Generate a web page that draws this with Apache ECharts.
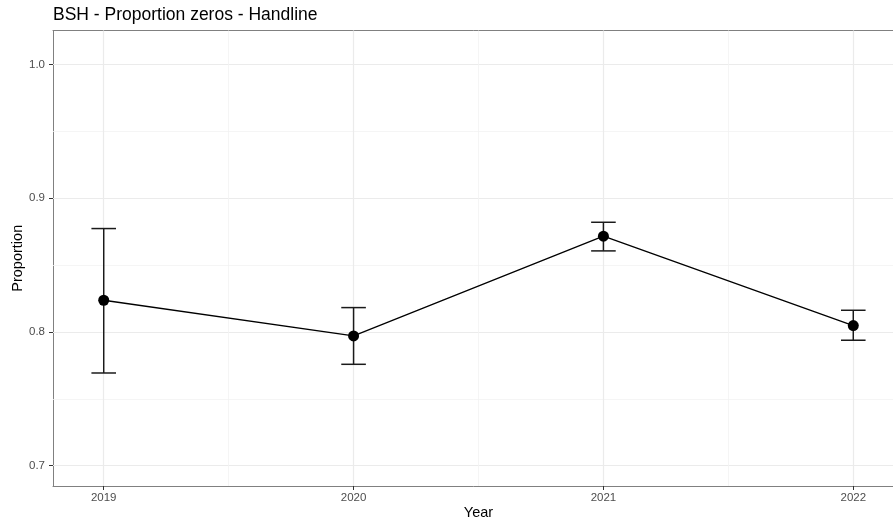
<!DOCTYPE html>
<html>
<head>
<meta charset="utf-8">
<script src="https://cdn.jsdelivr.net/npm/echarts@6/dist/echarts.min.js"></script>
<style>
  html, body { margin: 0; padding: 0; background: #fff; }
  #chart { width: 893px; height: 524px; }
</style>
</head>
<body>
<div id="chart"></div>
<script>
// data
var years = [2019, 2020, 2021, 2022];
var proportion = [0.8237, 0.797, 0.8716, 0.8048];
var lower = [0.7693, 0.7758, 0.8606, 0.7938];
var upper = [0.8773, 0.8182, 0.882, 0.8162];

var yTicks = [0.7, 0.8, 0.9, 1.0];
var yMinor = [0.75, 0.85, 0.95];
var xMinor = [2019.5, 2020.5, 2021.5];

var font = "Liberation Sans, Arial, Helvetica, sans-serif";
var border = { show: true, lineStyle: { color: "#808080", width: 1 } };

var chart = echarts.init(document.getElementById("chart"));

var pts = years.map(function (y, i) { return [y, proportion[i]]; });
var bars = years.map(function (y, i) { return [y, lower[i], upper[i]]; });

// grid lines as markLines (major + minor)
var gridLines = [];
yTicks.forEach(function (v) { gridLines.push({ yAxis: v, lineStyle: { color: "#ebebeb", width: 1.2, type: "solid" } }); });
yMinor.forEach(function (v) { gridLines.push({ yAxis: v, lineStyle: { color: "#f2f2f2", width: 0.8, type: "solid" } }); });
years.forEach(function (v) { gridLines.push({ xAxis: v, lineStyle: { color: "#ebebeb", width: 1.2, type: "solid" } }); });
xMinor.forEach(function (v) { gridLines.push({ xAxis: v, lineStyle: { color: "#f2f2f2", width: 0.8, type: "solid" } }); });

chart.setOption({
  animation: false,
  textStyle: { fontFamily: font },
  title: {
    text: "BSH - Proportion zeros - Handline",
    left: 53,
    top: 6,
    padding: 0,
    textStyle: { fontSize: 17.5, fontWeight: "normal", color: "#000", fontFamily: font },
  },
  grid: {
    left: 53,
    top: 30.5,
    width: 851,
    height: 455.5,
    outerBoundsMode: "none",
    containLabel: false,
  },
  xAxis: [
    {
      type: "value",
      min: 2018.797,
      max: 2022.203,
      name: "Year",
      nameLocation: "middle",
      nameGap: 19,
      nameMoveOverlap: false,
      nameTextStyle: { fontSize: 14.5, color: "#000", fontFamily: font },
      axisLine: border,
      axisTick: { show: true, customValues: years, length: 4, lineStyle: { color: "#333" } },
      axisLabel: {
        customValues: years,
        margin: 6,
        fontSize: 11.5,
        color: "#4d4d4d",
        formatter: function (v) { return String(v); },
      },
      splitLine: { show: false },
    },
    {
      // top edge of the panel
      type: "value",
      position: "top",
      min: 2018.797,
      max: 2022.203,
      axisLine: border,
      axisTick: { show: false },
      axisLabel: { show: false },
      splitLine: { show: false },
    },
  ],
  yAxis: {
    type: "value",
    min: 0.6848,
    max: 1.0254,
    name: "Proportion",
    nameLocation: "middle",
    nameRotate: 90,
    nameGap: 28,
    nameMoveOverlap: false,
    nameTextStyle: { fontSize: 14.5, color: "#000", fontFamily: font },
    axisLine: border,
    axisTick: { show: true, customValues: yTicks, length: 4, lineStyle: { color: "#333" } },
    axisLabel: {
      customValues: yTicks,
      margin: 8,
      fontSize: 11.5,
      color: "#4d4d4d",
      formatter: function (v) { return v.toFixed(1); },
    },
    splitLine: { show: false },
  },
  series: [
    {
      // holder for grid lines, kept on the lower layer
      type: "line",
      zlevel: 0,
      z: 1,
      data: pts,
      showSymbol: false,
      lineStyle: { opacity: 0 },
      silent: true,
      markLine: {
        silent: true,
        symbol: "none",
        label: { show: false },
        animation: false,
        data: gridLines,
      },
    },
    {
      type: "custom",
      zlevel: 1,
      z: 3,
      data: bars,
      renderItem: function (params, api) {
        var x = api.value(0);
        var lo = api.coord([x, api.value(1)]);
        var hi = api.coord([x, api.value(2)]);
        var hw = 12.3;
        var st = { stroke: "#1a1a1a", lineWidth: 1.5 };
        return {
          type: "group",
          children: [
            { type: "line", shape: { x1: lo[0], y1: lo[1], x2: hi[0], y2: hi[1] }, style: st },
            { type: "line", shape: { x1: lo[0] - hw, y1: lo[1], x2: lo[0] + hw, y2: lo[1] }, style: st },
            { type: "line", shape: { x1: hi[0] - hw, y1: hi[1], x2: hi[0] + hw, y2: hi[1] }, style: st },
          ],
        };
      },
    },
    {
      type: "line",
      zlevel: 1,
      z: 4,
      data: pts,
      symbol: "circle",
      symbolSize: 11,
      itemStyle: { color: "#000" },
      lineStyle: { color: "#000", width: 1.3 },
    },
  ],
});
</script>
</body>
</html>
